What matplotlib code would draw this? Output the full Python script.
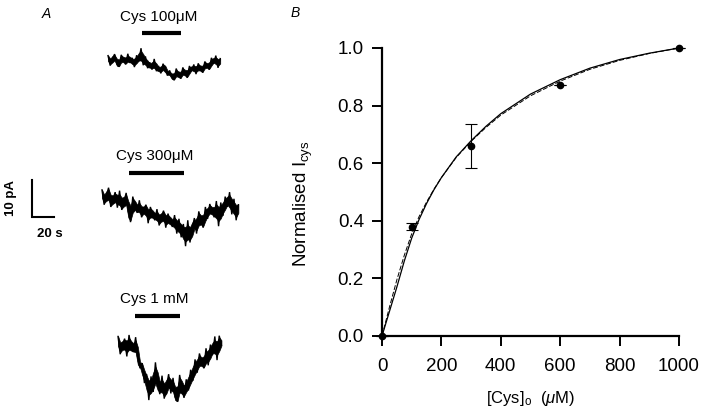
import numpy as np
import matplotlib
matplotlib.use('Agg')
from matplotlib import pyplot as plt

plt.rcParams['font.family'] = ['Liberation Sans', 'DejaVu Sans']
plt.rcParams['mathtext.fontset'] = 'custom'
plt.rcParams['mathtext.rm'] = 'Liberation Sans'
plt.rcParams['mathtext.it'] = 'Liberation Sans:italic'

# ---- panel A: current traces (pA relative to starting baseline), 2 s sampling
dt = 2.0
trace_100 = [1.2, -1.5, 0.4, 1.6, -1.0, -1.8, 1.4, 0.2, -1.2, 1.7,
             -0.8, 0.6, -1.9, 1.3, -0.4, 3.2, -1.4, 1.0, -2.2, -0.6,
             -2.6, 0.3, -3.0, -1.6, -3.6, -1.0, -2.2, -4.2, -2.8, -4.6,
             -5.4, -2.3, -4.0, -5.0, -2.0, -3.4, -4.8, -1.6, -3.0, -1.2,
             -3.8, -0.9, -2.2, -3.4, -0.4, -1.4, -2.6, 0.6, -1.0, 1.2,
             -2.1, 0.4]
trace_300 = [2.2, -1.8, 0.6, 2.8, -2.4, -0.4, 1.6, -2.6, 2.0, -3.2,
             -1.0, 1.4, -3.6, -6.5, 0.4, -2.2, -4.0, -0.6, -5.2, -3.0,
             -1.8, -6.8, -2.4, -4.4, -6.0, -3.0, -7.4, -5.0, -3.4, -8.0,
             -4.2, -6.2, -7.8, -4.6, -9.6, -5.6, -10.6, -7.0, -13.0, -6.0,
             -12.0, -8.2, -5.4, -9.6, -3.6, -6.0, -8.0, -2.4, -5.6, -1.6,
             -3.4, -5.2, -0.8, -7.6, -1.2, -4.8, 0.4, -2.4, 1.6, -4.4,
             -0.2, -6.0, -1.8]
trace_1mM = [2.6, -2.2, 0.4, 2.0, -2.8, 3.0, -0.6, -1.6, 2.4, -3.4,
             -6.0, -4.6, -10.0, -7.6, -14.6, -8.2, -12.4, -4.4, -10.2, -13.0,
             -8.0, -14.2, -11.0, -7.6, -12.8, -8.6, -13.8, -15.0, -7.8, -11.4,
             -14.0, -9.0, -12.0, -6.4, -9.4, -3.6, -7.2, -2.0, -4.4, -6.0,
             -0.6, -5.2, 0.4, -2.4, 2.6, -3.8, 2.8, 0.2]
traces = [trace_100, trace_300, trace_1mM]
labels = ['Cys 100μM', 'Cys 300μM', 'Cys 1 mM']
app_on = [31, 25, 15]     # s, start of Cys application
app_off = [66, 75, 56]    # s, end of Cys application

# ---- panel B: concentration-response
conc = [0, 100, 300, 600, 1000]
resp = [0.0, 0.38, 0.66, 0.87, 1.0]
resp_err = [0.0, 0.012, 0.077, 0.0, 0.0]
fit_x = [0, 25, 50, 75, 100, 125, 150, 175, 200, 250, 300, 350, 400, 500, 600,
         700, 800, 900, 1000]
fit_solid = [0, 0.085, 0.17, 0.26, 0.34, 0.405, 0.46, 0.508, 0.55, 0.622, 0.678,
             0.728, 0.772, 0.840, 0.890, 0.930, 0.960, 0.982, 1.0]
fit_dashed = [0, 0.10, 0.195, 0.28, 0.355, 0.415, 0.465, 0.51, 0.55, 0.62, 0.676,
              0.724, 0.767, 0.834, 0.885, 0.926, 0.957, 0.981, 1.0]

W, H = 705, 416
fig = plt.figure(figsize=(W / 100, H / 100), dpi=100)

# panel A axes: 1.1 px per s, 3.7 px per pA
axa = fig.add_axes([0, 0, 1, 1])
axa.set_xlim(0, W / 1.1)
axa.set_ylim(0, H / 3.7)
axa.axis('off')

starts = [98.2, 92.7, 107.3]     # s
baselines = [96.2, 58.9, 18.9]   # pA
bar_y = [7.2, 6.9, 8.1]
for tr, lab, on, off, t0, b, by in zip(traces, labels, app_on, app_off, starts, baselines, bar_y):
    t = t0 + np.arange(len(tr)) * dt
    y = b + np.array(tr)
    # solid core of the noisy record, then the raw samples on top
    yp = np.pad(y, 1, mode='edge')
    core = np.convolve(yp, [0.25, 0.5, 0.25], mode='valid')
    rng = np.array([yp[i:i + 3].max() - yp[i:i + 3].min() for i in range(len(y))])
    axa.fill_between(t, core - 0.28 * rng, core + 0.28 * rng, color='black', lw=0.5)
    axa.plot(t, y, color='black', lw=1.0, solid_joinstyle='miter')
    axa.plot([t0 + on, t0 + off], [b + by, b + by], color='black', lw=3, solid_capstyle='butt')
    axa.annotate(lab, xy=((2 * t0 + on + off) / 2, b + by), xytext=(-2, 12),
                 textcoords='offset points', ha='center', va='center', fontsize=11)

# scale bar 10 pA / 20 s
sx, sy = 29.1, 53.8
axa.plot([sx, sx, sx + 20], [sy + 10, sy, sy], color='black', lw=1.5, solid_joinstyle='miter')
axa.text(sx - 19, sy + 5, '10 pA', rotation=90, ha='center', va='center',
         fontsize=9.5, fontweight='bold')
axa.text(sx + 16, sy - 4.6, '20 s', ha='center', va='center', fontsize=9.5, fontweight='bold')
fig.text(42 / W, 1 - 14 / H, 'A', fontsize=10, style='italic', ha='left', va='center')
fig.text(291 / W, 1 - 13 / H, 'B', fontsize=10, style='italic', ha='left', va='center')

# panel B
ax = fig.add_axes([382 / W, 1 - 336 / H, 297 / W, 288 / H])
ax.plot(fit_x, fit_solid, color='black', lw=0.9)
ax.plot(fit_x, fit_dashed, color='black', lw=0.7, dashes=(5, 2))
ax.errorbar(conc, resp, yerr=resp_err, fmt='o', color='black', ms=4.5,
            elinewidth=0.8, capsize=4, capthick=0.8, clip_on=False, zorder=5)
ax.set_xlim(0, 1000)
ax.set_ylim(0, 1.0)
ax.set_xticks(np.arange(0, 1001, 200))
ax.set_yticks(np.arange(0, 1.01, 0.2))
ax.set_yticklabels(['%.1f' % v for v in np.arange(0, 1.01, 0.2)])
for s in ['top', 'right']:
    ax.spines[s].set_visible(False)
for s in ['left', 'bottom']:
    ax.spines[s].set_linewidth(1.6)
ax.tick_params(direction='out', length=7, width=1.4, labelsize=13.5)
ax.tick_params(axis='x', pad=9)
ax.tick_params(axis='y', pad=6)
ax.set_ylabel('Normalised I$_{\\mathrm{cys}}$', fontsize=13.5)
ax.yaxis.set_label_coords(-0.226, 0.458)
ax.set_xlabel('[Cys]$_{\\mathrm{o}}$  ($\\mu$M)', fontsize=12)
ax.xaxis.set_label_coords(0.5, -0.185)

plt.savefig('out.png', dpi=100)
